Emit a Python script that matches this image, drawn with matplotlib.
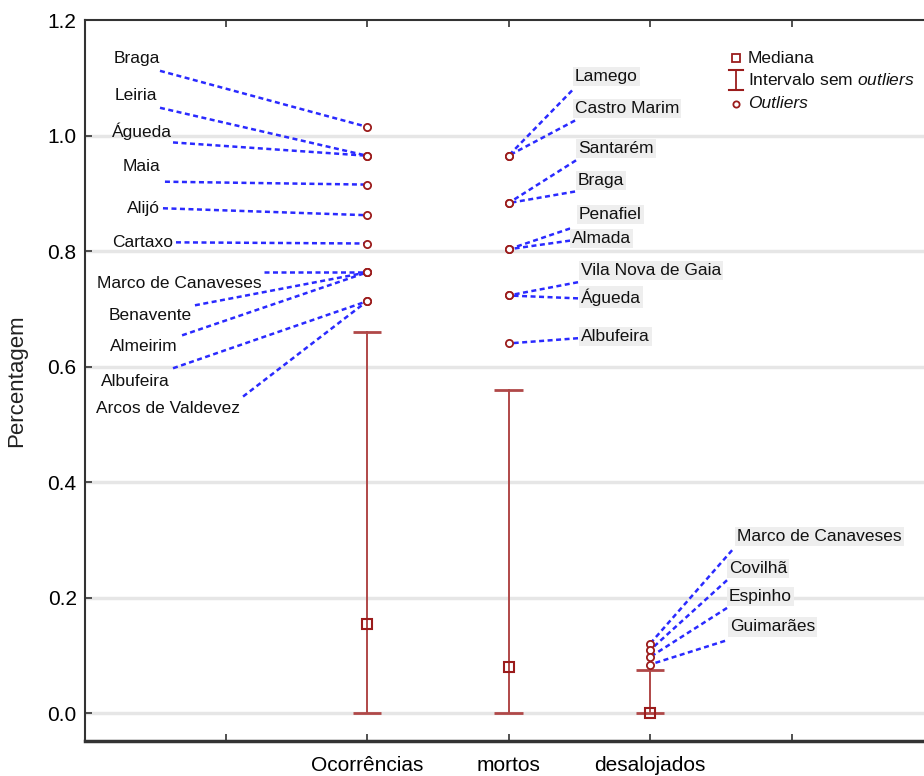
import matplotlib
matplotlib.use("Agg")
import matplotlib.pyplot as plt

plt.rcParams['font.family'] = ['Liberation Sans', 'DejaVu Sans']
plt.rcParams['mathtext.fontset'] = 'custom'
plt.rcParams['mathtext.it'] = 'Liberation Sans:italic'
plt.rcParams['mathtext.rm'] = 'Liberation Sans'

# ---- data ----
categories = ['Ocorrências', 'mortos', 'desalojados']
medians = [0.155, 0.08, 0.0]
whisker_low = [0.0, 0.0, 0.0]
whisker_high = [0.66, 0.56, 0.075]

occ_names = ['Braga', 'Leiria', 'Águeda', 'Maia', 'Alijó', 'Cartaxo',
             'Marco de Canaveses', 'Benavente', 'Almeirim', 'Albufeira',
             'Arcos de Valdevez']
occ_values = [1.015, 0.965, 0.965, 0.915, 0.862, 0.813,
              0.763, 0.763, 0.763, 0.713, 0.713]

mor_names = ['Lamego', 'Castro Marim', 'Santarém', 'Braga', 'Penafiel',
             'Almada', 'Vila Nova de Gaia', 'Águeda', 'Albufeira']
mor_values = [0.965, 0.965, 0.883, 0.883, 0.803, 0.803, 0.723, 0.723, 0.64]

des_names = ['Marco de Canaveses', 'Covilhã', 'Espinho', 'Guimarães']
des_values = [0.120, 0.109, 0.097, 0.084]

# label layout (text anchor and leader-line start, in data coords)
occ_text_x = [-0.463, -0.484, -0.378, -0.463, -0.463, -0.371, 0.258, -0.237, -0.336, -0.392, 0.102]
occ_text_y = [1.133, 1.069, 1.007, 0.946, 0.874, 0.815, 0.744, 0.689, 0.635, 0.574, 0.528]
occ_line_x = [-0.463, -0.463, -0.371, -0.428, -0.442, -0.350, 0.272, -0.216, -0.307, -0.371, 0.124]
occ_line_y = [1.112, 1.048, 0.988, 0.920, 0.874, 0.815, 0.763, 0.706, 0.654, 0.597, 0.548]

mor_text_x = [2.470, 2.470, 2.491, 2.491, 2.498, 2.449, 2.512, 2.512, 2.512]
mor_text_y = [1.102, 1.047, 0.978, 0.922, 0.863, 0.822, 0.766, 0.720, 0.652]
mor_line_x = [2.449, 2.470, 2.477, 2.470, 2.435, 2.435, 2.491, 2.491, 2.491]
mor_line_y = [1.078, 1.026, 0.957, 0.903, 0.839, 0.818, 0.746, 0.718, 0.649]

des_text_x = [3.615, 3.558, 3.558, 3.565]
des_text_y = [0.306, 0.251, 0.202, 0.149]
des_line_x = [3.580, 3.544, 3.544, 3.530]
des_line_y = [0.282, 0.230, 0.182, 0.125]

yticks = [0.0, 0.2, 0.4, 0.6, 0.8, 1.0, 1.2]

# ---- styles ----
RED = '#9b1c1c'
WHISK = '#b04848'
BLUE = '#2a2aff'
LABEL_FS = 12.5

fig = plt.figure(figsize=(9.24, 7.76), dpi=100)
ax = fig.add_axes([85/924, 35/776, 1 - 85/924, (741-20)/776])
ax.set_xlim(-0.993, 4.936)
ax.set_ylim(-0.0484, 1.2)

for y in yticks[:-1]:
    ax.axhline(y, color='#e6e6e6', lw=2.5, zorder=0)

xpos = [1, 2, 3]
for x, lo, hi, med in zip(xpos, whisker_low, whisker_high, medians):
    ax.plot([x, x], [lo, hi], color=WHISK, lw=1.4, zorder=2)
    ax.plot([x - 0.1, x + 0.1], [lo, lo], color=WHISK, lw=2.0, zorder=2, solid_capstyle='butt')
    ax.plot([x - 0.1, x + 0.1], [hi, hi], color=WHISK, lw=2.0, zorder=2, solid_capstyle='butt')
    ax.plot([x], [med], marker='s', ms=7.5, mfc='none', mec=RED, mew=1.5, zorder=4)

def draw_outliers(x, names, values, tx, ty, lx, ly, ha, boxed):
    for n, v, a, b, c, d in zip(names, values, tx, ty, lx, ly):
        ax.plot([c, x], [d, v], color=BLUE, lw=1.8, dashes=(2.0, 1.4), zorder=3)
        kw = {}
        if boxed:
            kw['bbox'] = dict(facecolor='#eeeeee', edgecolor='none', pad=1.5)
        ax.text(a, b, n, ha=ha, va='center', fontsize=LABEL_FS, color='#111111', zorder=5, **kw)
    ax.plot([x] * len(values), values, 'o', ms=5.2, mfc='white', mec=RED, mew=1.3, zorder=4, ls='none')

draw_outliers(1, occ_names, occ_values, occ_text_x, occ_text_y, occ_line_x, occ_line_y, 'right', False)
draw_outliers(2, mor_names, mor_values, mor_text_x, mor_text_y, mor_line_x, mor_line_y, 'left', True)
draw_outliers(3, des_names, des_values, des_text_x, des_text_y, des_line_x, des_line_y, 'left', True)

# legend (manual)
lx0, tx0 = 0.776, 0.790
ax.plot([lx0], [0.947], 's', ms=6, mfc='none', mec=RED, mew=1.3, transform=ax.transAxes, clip_on=False)
ax.text(tx0, 0.947, 'Mediana', transform=ax.transAxes, va='center', ha='left', fontsize=LABEL_FS, color='#111111')
ax.plot([lx0, lx0], [0.903, 0.931], color=RED, lw=1.3, transform=ax.transAxes)
ax.plot([lx0 - 0.008, lx0 + 0.008], [0.903, 0.903], color=RED, lw=1.5, transform=ax.transAxes)
ax.plot([lx0 - 0.008, lx0 + 0.008], [0.931, 0.931], color=RED, lw=1.5, transform=ax.transAxes)
ax.text(tx0, 0.917, r'Intervalo sem $\mathit{outliers}$', transform=ax.transAxes, va='center', ha='left', fontsize=LABEL_FS, color='#111111')
ax.plot([lx0], [0.884], 'o', ms=4.5, mfc='none', mec=RED, mew=1.3, transform=ax.transAxes)
ax.text(tx0, 0.884, 'Outliers', transform=ax.transAxes, va='center', ha='left', fontsize=LABEL_FS, style='italic', color='#111111')

# axes styling
ax.set_xticks([0, 1, 2, 3, 4])
ax.set_xticklabels([''] + categories + [''], fontsize=15)
ax.set_yticks(yticks)
ax.set_yticklabels([f'{v:.1f}' for v in yticks], fontsize=15)
ax.tick_params(axis='both', direction='in', length=5, width=1.2, color='#333333', top=True)
ax.tick_params(axis='x', pad=11)
ax.tick_params(axis='y', pad=6)
ax.spines['right'].set_visible(False)
ax.spines['left'].set_color('#333333')
ax.spines['left'].set_linewidth(1.5)
ax.spines['top'].set_color('#333333')
ax.spines['top'].set_linewidth(1.5)
ax.spines['bottom'].set_color('#333333')
ax.spines['bottom'].set_linewidth(2.5)
ax.set_ylabel('Percentagem', fontsize=16, color='#222222')
ax.yaxis.set_label_coords(-0.069, 0.5)

fig.savefig('out.png', dpi=100)
